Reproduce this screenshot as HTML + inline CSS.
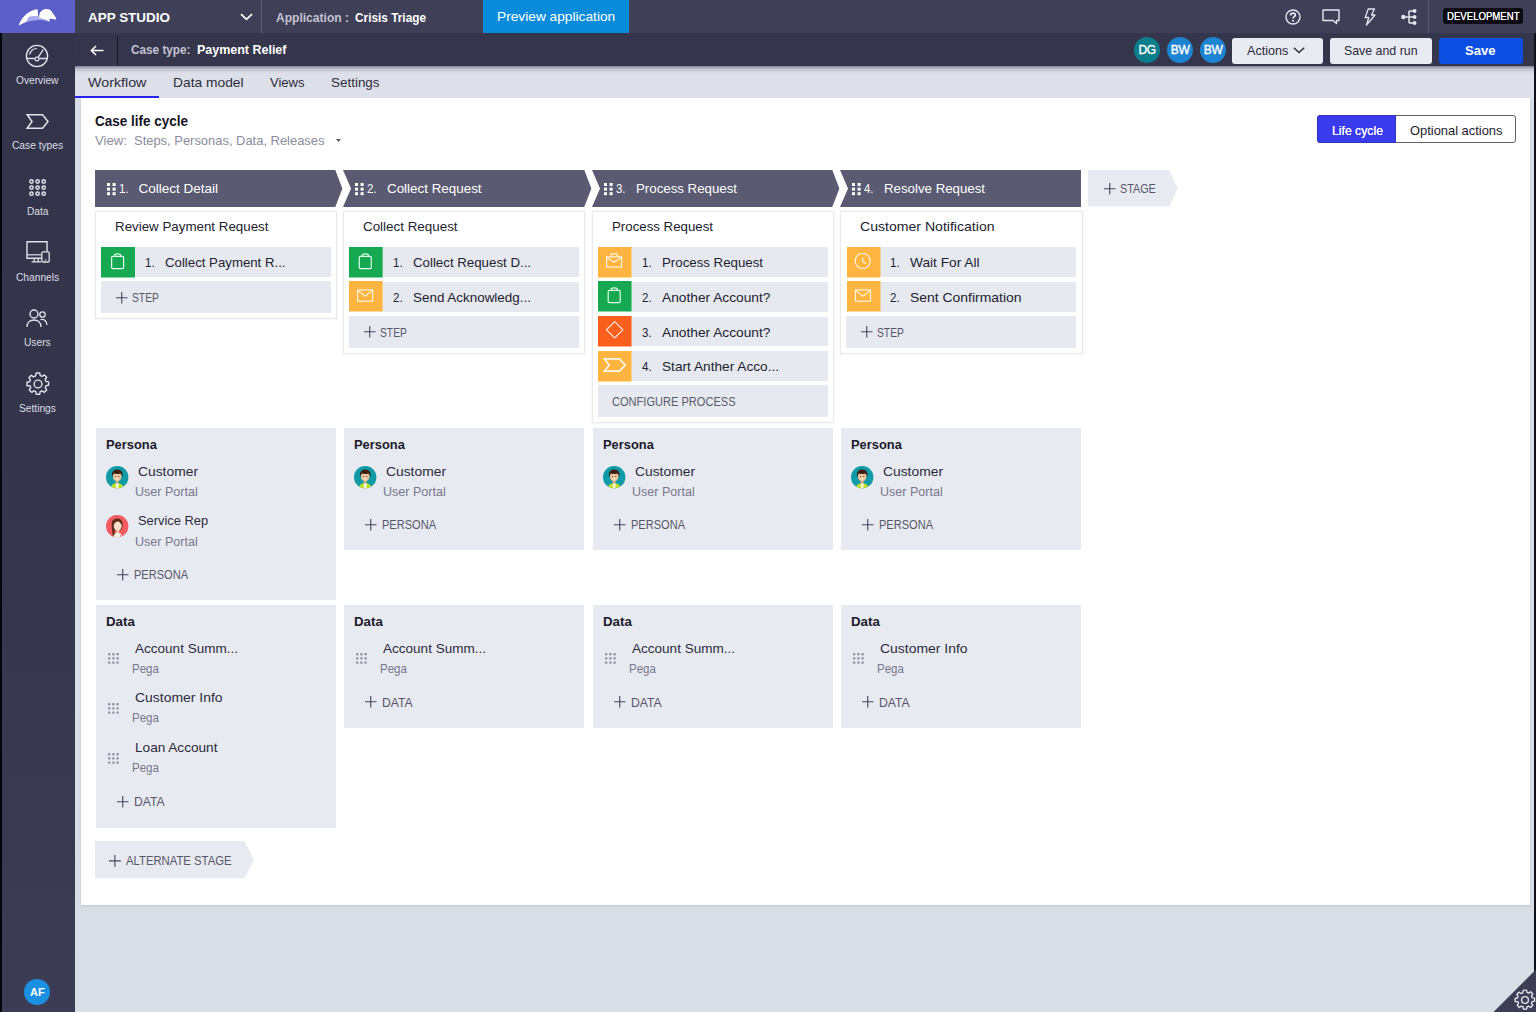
<!DOCTYPE html>
<html>
<head>
<meta charset="utf-8">
<title>App Studio</title>
<style>
*{box-sizing:border-box;margin:0;padding:0}
html,body{width:1536px;height:1012px;overflow:hidden}
body{font-family:"Liberation Sans",sans-serif;background:#d9dde6;position:relative;color:#1c1c2c;font-size:13px}
.abs{position:absolute}
svg{display:block;position:absolute;overflow:visible}
/* top bar */
#topbar{left:0;top:0;width:1536px;height:33px;background:#3f3f58}
#logo{left:0;top:0;width:75px;height:33px;background:#5d5fc9}
#bar2{left:75px;top:33px;width:1461px;height:33px;background:#35354b}
#side{left:0;top:33px;width:75px;height:979px;background:linear-gradient(#33344a 0%,#35364b 55%,#3c3c54 100%)}
#sideedge{left:0;top:33px;width:2px;height:979px;background:#05050a}
#rightedge{left:1533.6px;top:33px;width:2.4px;height:979px;background:#101018}
#tabs{left:75px;top:66px;width:1459px;height:32px;background:#dde0e9}
#tabshadow{left:75px;top:66px;width:1459px;height:7px;background:linear-gradient(rgba(40,40,60,.5),rgba(40,40,60,.18) 40%,rgba(40,40,60,0))}
#panel{left:81px;top:98px;width:1449px;height:807px;background:#fff;box-shadow:0 1px 2px rgba(60,60,70,.13)}
.t{position:absolute;white-space:nowrap;line-height:1}
.navlbl{position:absolute;left:2px;width:71px;text-align:center;font-size:11px;color:#e4e4ec;line-height:1;white-space:nowrap}
.btn{position:absolute;top:38px;height:26px;border-radius:3px;background:#e9ebf2;color:#2a2a3a;font-size:13px;line-height:26px;text-align:center;white-space:nowrap}
.av{position:absolute;top:37.3px;width:26.2px;height:26.2px;border-radius:50%;color:#fff;font-size:12px;line-height:26.2px;text-align:center;-webkit-text-stroke:.35px #fff;letter-spacing:-.3px}
/* stages */
.stage{position:absolute;top:170px;height:37px;background:#5a5a73}
.stxt{position:absolute;top:182px;font-size:14px;color:#fff;white-space:nowrap;line-height:1}
.cont{position:absolute;top:211px;width:242px;border:1px solid #e3e5ec;background:#fff}
.ptitle{position:absolute;font-size:13px;color:#22222f;white-space:nowrap;line-height:1}
.row{position:absolute;width:229px;background:#e6e9f0}
.ico{position:absolute;width:34px;height:31px}
.g{background:#17a951}.o{background:#fdb441}.r{background:#fb5f1e}
.rtxt{position:absolute;font-size:14px;color:#22222f;white-space:nowrap;line-height:1}
.add{position:absolute;font-size:12px;color:#50505f;white-space:nowrap;line-height:1}
.box{position:absolute;width:241px;background:#e8eaf2}
.h{position:absolute;font-size:13px;font-weight:bold;color:#1a1a2a;white-space:nowrap;line-height:1}
.n{position:absolute;font-size:13px;color:#2a2a3a;white-space:nowrap;line-height:1}
.s{position:absolute;font-size:12px;color:#74748a;white-space:nowrap;line-height:1}
</style>
</head>
<body>
<div class="abs" id="topbar"></div>
<div class="abs" id="logo"></div>
<div class="abs" id="bar2"></div>
<div class="abs" id="side"></div>
<div class="abs" id="sideedge"></div>
<div class="abs" id="tabs"></div>
<div class="abs" id="tabshadow"></div>
<div class="abs" id="panel"></div>
<div class="abs" id="rightedge"></div>
<svg style="left:0.00px;top:0.00px" width="75" height="33" viewBox="0 0 75 33">
<path d="M18.6 25.6 C20.5 20.5 23.5 16.5 26.5 14 C30 11.2 33.8 9.6 37.4 9.2 C37.8 11.5 38 14 38.1 16.6 C44 17 47 18.6 49.4 21.4 L49.200 21.900 C45.500 20.300 42 19.800 38.500 19.900 C31 20 25 22 18.600 25.600Z" fill="#a9abef"/>
<path d="M18.6 25.6 C20.5 20.5 23.5 16.5 26.5 14 C30 11.2 33.8 9.6 37.4 9.2 C37.8 11.5 38 14 38.1 16.400 C34.500 15.800 31.500 16 28.800 16.800 C27.800 18.500 27 19.800 26.300 21.800 C23.500 22.800 21 24 18.600 25.600Z" fill="#fff"/>
<path d="M39.1 15.600 C39.500 13 40.800 11 42.600 10 C44 9.200 45.800 8.900 47.200 9.100 C48.800 9.300 50.300 9.900 51.300 10.900 L56 17.700 C56.300 18.500 56.100 19.300 55.600 19.800 C53.800 19.200 51.500 18.700 49.400 18.600 C49.700 19.600 49.800 20.600 49.600 21.600 C48.200 20.400 46.800 19.800 45.600 19.400 C43.500 18.600 41 18 39.100 17.700Z" fill="#fff"/>
</svg>
<div class="t" style="left:88.00px;top:11.00px;font-size:13px;color:#fff;font-weight:bold;transform:scaleX(1.0347);transform-origin:0 0;">APP STUDIO</div>
<svg style="left:240.00px;top:12.50px" width="13" height="8" viewBox="0 0 13 8"><path d="M1 1.2L6.5 6.3L12 1.2" stroke="#fff" stroke-width="1.8" fill="none"/></svg>
<div class="abs" style="left:261.00px;top:0.00px;width:1.00px;height:33.00px;background:#5c5c75;"></div>
<div class="t" style="left:275.50px;top:11.00px;font-size:13px;color:#c4c4d0;font-weight:bold;transform:scaleX(0.9270);transform-origin:0 0;">Application :</div>
<div class="t" style="left:355.00px;top:11.00px;font-size:13px;color:#fff;font-weight:bold;transform:scaleX(0.9103);transform-origin:0 0;">Crisis Triage</div>
<div class="abs" style="left:483.00px;top:0.00px;width:145.50px;height:32.50px;background:#0b8cda;"></div>
<div class="t" style="left:496.50px;top:9.80px;font-size:13px;color:#fff;transform:scaleX(1.0554);transform-origin:0 0;">Preview application</div>
<svg style="left:1284.50px;top:8.50px" width="16" height="16" viewBox="0 0 16 16"><circle cx="8" cy="8" r="7" stroke="#e6e6ee" stroke-width="1.4" fill="none"/><path d="M5.7 6.4C5.7 4.9 6.7 4.1 8 4.1C9.4 4.1 10.3 4.9 10.3 6.1C10.3 7.6 8 7.7 8 9.4" stroke="#e6e6ee" stroke-width="1.8" fill="none"/><circle cx="8" cy="11.700" r="1.050" fill="#e6e6ee"/></svg>
<svg style="left:1322.00px;top:9.00px" width="18" height="16" viewBox="0 0 18 16"><path d="M1 1H17V11.5H14.5V14.5L11 11.5H1Z" stroke="#e6e6ee" stroke-width="1.4" fill="none" stroke-linejoin="round"/></svg>
<svg style="left:1363.00px;top:8.00px" width="14" height="18" viewBox="0 0 14 18"><path d="M5.2 1H11.5L8.5 7H12L3.5 17L5.8 9.5H2.2Z" stroke="#e6e6ee" stroke-width="1.3" fill="none" stroke-linejoin="round"/></svg>
<svg style="left:1401.00px;top:8.50px" width="16" height="16" viewBox="0 0 16 16"><path d="M2 8H8M8 2V14M8 2H13.5M8 8H13.5M8 14H13.5" stroke="#e6e6ee" stroke-width="1.5" fill="none"/><circle cx="2.300" cy="8" r="2.200" fill="#e6e6ee"/><circle cx="13.600" cy="2" r="1.900" fill="#e6e6ee"/><circle cx="13.600" cy="8" r="1.900" fill="#e6e6ee"/><circle cx="13.600" cy="14" r="1.900" fill="#e6e6ee"/></svg>
<div class="abs" style="left:1428.00px;top:0.00px;width:1.00px;height:33.00px;background:#5c5c75;"></div>
<div class="abs" style="left:1442.50px;top:8.00px;width:80.50px;height:15.70px;background:#0c0c12;border-radius:3px;"></div>
<div class="t" style="left:1446.50px;top:11.09px;font-size:11px;color:#fff;transform:scaleX(0.8722);transform-origin:0 0;text-shadow:0 0 .4px #fff;">DEVELOPMENT</div>

<svg style="left:25.30px;top:44.20px" width="24" height="24" viewBox="0 0 24 24"><circle cx="12" cy="12" r="10.6" stroke="#e2e2ea" stroke-width="1.4" fill="none"/><path d="M1.6 14.5H9.8M14.2 14.5H22.4" stroke="#e2e2ea" stroke-width="1.3"/><circle cx="12" cy="15" r="1.9" stroke="#e2e2ea" stroke-width="1.2" fill="none"/><path d="M13.1 13.4L18.3 5.6" stroke="#e2e2ea" stroke-width="1.4"/><path d="M4.6 10.5C5.6 6.8 8.6 4.5 12 4.5" stroke="#e2e2ea" stroke-width="1.2" fill="none"/></svg>
<div class="t" style="left:16.24px;top:75.53px;font-size:10px;color:#dedee6;transform:scaleX(1.0183);transform-origin:0 0;">Overview</div>
<svg style="left:25.70px;top:113.60px" width="23" height="15" viewBox="0 0 23 15"><path d="M1.2 0.8H16.5L22 7.5L16.5 14.2H1.2L6 7.5Z" stroke="#e2e2ea" stroke-width="1.5" fill="none" stroke-linejoin="miter"/></svg>
<div class="t" style="left:11.98px;top:141.03px;font-size:10px;color:#dedee6;transform:scaleX(1.0206);transform-origin:0 0;">Case types</div>
<svg style="left:29.00px;top:178.70px" width="17.2" height="17.2" viewBox="0 0 17.2 17.2"><circle cx="2.5" cy="2.5" r="1.65" stroke="#e2e2ea" stroke-width="1.5" fill="none"/><circle cx="8.6" cy="2.5" r="1.65" stroke="#e2e2ea" stroke-width="1.5" fill="none"/><circle cx="14.7" cy="2.5" r="1.65" stroke="#e2e2ea" stroke-width="1.5" fill="none"/><circle cx="2.5" cy="8.6" r="1.65" stroke="#e2e2ea" stroke-width="1.5" fill="none"/><circle cx="8.6" cy="8.6" r="1.65" stroke="#e2e2ea" stroke-width="1.5" fill="none"/><circle cx="14.7" cy="8.6" r="1.65" stroke="#e2e2ea" stroke-width="1.5" fill="none"/><circle cx="2.5" cy="14.7" r="1.65" stroke="#e2e2ea" stroke-width="1.5" fill="none"/><circle cx="8.6" cy="14.7" r="1.65" stroke="#e2e2ea" stroke-width="1.5" fill="none"/><circle cx="14.7" cy="14.7" r="1.65" stroke="#e2e2ea" stroke-width="1.5" fill="none"/></svg>
<div class="t" style="left:26.73px;top:207.03px;font-size:10px;color:#dedee6;transform:scaleX(1.0141);transform-origin:0 0;">Data</div>
<svg style="left:25.50px;top:241.30px" width="24" height="22" viewBox="0 0 24 22"><path d="M15.2 17.2H1V0.8H21V10.6" stroke="#e2e2ea" stroke-width="1.4" fill="none"/><path d="M1 13.8H15.2" stroke="#e2e2ea" stroke-width="1.2" fill="none"/><path d="M8.2 17.2V20.4M12.2 17.2V20.4M5.6 20.8H15" stroke="#e2e2ea" stroke-width="1.3" fill="none"/><rect x="15.8" y="10.8" width="7.4" height="10.2" rx="1.2" stroke="#e2e2ea" stroke-width="1.3" fill="none"/><path d="M18.6 19H20.400" stroke="#e2e2ea" stroke-width="1"/></svg>
<div class="t" style="left:15.95px;top:272.54px;font-size:10px;color:#dedee6;transform:scaleX(1.0202);transform-origin:0 0;">Channels</div>
<svg style="left:26.00px;top:308.50px" width="22" height="19" viewBox="0 0 22 19"><circle cx="8" cy="5" r="4" stroke="#e2e2ea" stroke-width="1.4" fill="none"/><path d="M1 18C1 13.5 4 11 8 11C12 11 15 13.5 15 18" stroke="#e2e2ea" stroke-width="1.4" fill="none"/><circle cx="16.5" cy="5.5" r="2.7" stroke="#e2e2ea" stroke-width="1.3" fill="none"/><path d="M14.5 10.6C18.5 9.8 21 12.5 21 16" stroke="#e2e2ea" stroke-width="1.3" fill="none"/></svg>
<div class="t" style="left:24.18px;top:338.04px;font-size:10px;color:#dedee6;transform:scaleX(1.0196);transform-origin:0 0;">Users</div>
<svg style="left:25.50px;top:372.00px" width="24" height="24" viewBox="0 0 24 24"><path d="M10.3 1h3.4l.5 2.6 1.9.8 2.2-1.5 2.4 2.4-1.5 2.2.8 1.9 2.6.5v3.4l-2.6.5-.8 1.9 1.5 2.2-2.4 2.4-2.2-1.5-1.9.8-.5 2.6h-3.4l-.5-2.6-1.9-.8-2.2 1.5-2.4-2.4 1.5-2.2-.8-1.9L1 13.700v-3.400l2.600-.5.8-1.900-1.500-2.200 2.400-2.400 2.200 1.500 1.900-.8z" stroke="#e2e2ea" stroke-width="1.4" fill="none" stroke-linejoin="round"/><circle cx="12" cy="12" r="3.9" stroke="#e2e2ea" stroke-width="1.4" fill="none"/></svg>
<div class="t" style="left:19.07px;top:403.54px;font-size:10px;color:#dedee6;transform:scaleX(1.0204);transform-origin:0 0;">Settings</div>
<div class="abs" style="left:24.3px;top:979px;width:26px;height:26px;border-radius:50%;background:#1b8fe0;color:#fff;font-size:11px;font-weight:bold;line-height:26px;text-align:center">AF</div>

<svg style="left:90.00px;top:44.50px" width="14" height="11" viewBox="0 0 14 11"><path d="M13.5 5.5H1.5M6 1L1.4 5.5L6 10" stroke="#fff" stroke-width="1.6" fill="none"/></svg>
<div class="abs" style="left:117.00px;top:36.00px;width:1.00px;height:29.00px;background:#1a1a26;"></div>
<div class="t" style="left:131.00px;top:43.40px;font-size:13px;color:#c4c4d0;font-weight:bold;transform:scaleX(0.9049);transform-origin:0 0;">Case type:</div>
<div class="t" style="left:196.50px;top:43.40px;font-size:13px;color:#fff;font-weight:bold;transform:scaleX(0.9598);transform-origin:0 0;">Payment Relief</div>
<div class="av" style="left:1134px;background:#0a7d8c">DG</div>
<div class="av" style="left:1167px;background:#1d84d2">BW</div>
<div class="av" style="left:1200px;background:#1d84d2">BW</div>
<div class="btn" style="left:1232px;width:91px"></div>
<div class="t" style="left:1246.60px;top:43.80px;font-size:13px;color:#2a2a3a;transform:scaleX(0.9713);transform-origin:0 0;">Actions</div>
<svg style="left:1293.00px;top:47.00px" width="12" height="7" viewBox="0 0 12 7"><path d="M0.8 0.8L6 5.6L11.2 0.8" stroke="#2a2a3a" stroke-width="1.4" fill="none"/></svg>
<div class="btn" style="left:1330px;width:102px"></div>
<div class="t" style="left:1344.00px;top:43.80px;font-size:13px;color:#2a2a3a;transform:scaleX(0.9512);transform-origin:0 0;">Save and run</div>
<div class="btn" style="left:1439px;width:84px;background:#0a4fe2"></div>
<div class="t" style="left:1465.40px;top:43.80px;font-size:13px;color:#fff;font-weight:bold;transform:scaleX(1.0074);transform-origin:0 0;">Save</div>

<div class="t" style="left:88.00px;top:75.57px;font-size:13.5px;color:#2c2c3c;transform:scaleX(1.0564);transform-origin:0 0;">Workflow</div>
<div class="t" style="left:173.00px;top:75.57px;font-size:13.5px;color:#2c2c3c;transform:scaleX(1.0217);transform-origin:0 0;">Data model</div>
<div class="t" style="left:270.00px;top:75.57px;font-size:13.5px;color:#2c2c3c;transform:scaleX(0.9650);transform-origin:0 0;">Views</div>
<div class="t" style="left:331.00px;top:75.57px;font-size:13.5px;color:#2c2c3c;transform:scaleX(0.9949);transform-origin:0 0;">Settings</div>
<div class="abs" style="left:75.00px;top:96.00px;width:84.00px;height:1.70px;background:#2424ee;"></div>

<div class="t" style="left:95.00px;top:114.25px;font-size:14px;color:#14141f;font-weight:bold;transform:scaleX(0.9637);transform-origin:0 0;">Case life cycle</div>
<div class="t" style="left:95.00px;top:133.50px;font-size:13px;color:#8c8c9c;transform:scaleX(1.0159);transform-origin:0 0;">View:</div>
<div class="t" style="left:133.50px;top:133.50px;font-size:13px;color:#8c8c9c;transform:scaleX(0.9948);transform-origin:0 0;">Steps, Personas, Data, Releases</div>
<svg style="left:336.00px;top:138.70px" width="5" height="3" viewBox="0 0 5 3"><path d="M0 0H5L2.500 3Z" fill="#55556a"/></svg>
<div class="abs" style="left:1317px;top:115.3px;width:199px;height:27.7px;border:1px solid #5e5e72;border-radius:3px;background:#fff"></div>
<div class="abs" style="left:1317px;top:115.3px;width:79px;height:27.7px;border-radius:3px 0 0 3px;background:#3b3bee;border:1px solid #3333b8"></div>
<div class="t" style="left:1331.50px;top:124.00px;font-size:13px;color:#fff;transform:scaleX(0.9401);transform-origin:0 0;text-shadow:0 0 .5px #fff;">Life cycle</div>
<div class="t" style="left:1409.50px;top:124.00px;font-size:13px;color:#1c1c2c;transform:scaleX(0.9920);transform-origin:0 0;">Optional actions</div>

<svg style="left:95.00px;top:169.80px" width="248" height="37.1" viewBox="0 0 248 37.1"><path d="M0 0L240.3 0L247.4 18.55L240.3 37.1L0 37.1Z" fill="#5a5a73"/></svg>
<svg style="left:106.60px;top:183.30px" width="9" height="13" viewBox="0 0 9 13"><rect x="0" y="0" width="3" height="3" fill="#fff"/><rect x="5.6" y="0" width="3" height="3" fill="#fff"/><rect x="0" y="4.6" width="3" height="3" fill="#fff"/><rect x="5.6" y="4.6" width="3" height="3" fill="#fff"/><rect x="0" y="9.2" width="3" height="3" fill="#fff"/><rect x="5.6" y="9.2" width="3" height="3" fill="#fff"/></svg>
<div class="t" style="left:118.90px;top:182.27px;font-size:13.5px;color:#fff;transform:scaleX(0.8444);transform-origin:0 0;">1.</div>
<div class="t" style="left:138.50px;top:182.27px;font-size:13.5px;color:#fff;transform:scaleX(1.0000);transform-origin:0 0;">Collect Detail</div>
<svg style="left:343.00px;top:169.80px" width="249" height="37.1" viewBox="0 0 249 37.1"><path d="M0 0L241.3 0L248.4 18.55L241.3 37.1L0 37.1L8 18.55Z" fill="#5a5a73"/></svg>
<svg style="left:354.60px;top:183.30px" width="9" height="13" viewBox="0 0 9 13"><rect x="0" y="0" width="3" height="3" fill="#fff"/><rect x="5.6" y="0" width="3" height="3" fill="#fff"/><rect x="0" y="4.6" width="3" height="3" fill="#fff"/><rect x="5.6" y="4.6" width="3" height="3" fill="#fff"/><rect x="0" y="9.2" width="3" height="3" fill="#fff"/><rect x="5.6" y="9.2" width="3" height="3" fill="#fff"/></svg>
<div class="t" style="left:366.90px;top:182.27px;font-size:13.5px;color:#fff;transform:scaleX(0.8444);transform-origin:0 0;">2.</div>
<div class="t" style="left:386.50px;top:182.27px;font-size:13.5px;color:#fff;transform:scaleX(0.9921);transform-origin:0 0;">Collect Request</div>
<svg style="left:592.00px;top:169.80px" width="248" height="37.1" viewBox="0 0 248 37.1"><path d="M0 0L240.3 0L247.4 18.55L240.3 37.1L0 37.1L8 18.55Z" fill="#5a5a73"/></svg>
<svg style="left:603.60px;top:183.30px" width="9" height="13" viewBox="0 0 9 13"><rect x="0" y="0" width="3" height="3" fill="#fff"/><rect x="5.6" y="0" width="3" height="3" fill="#fff"/><rect x="0" y="4.6" width="3" height="3" fill="#fff"/><rect x="5.6" y="4.6" width="3" height="3" fill="#fff"/><rect x="0" y="9.2" width="3" height="3" fill="#fff"/><rect x="5.6" y="9.2" width="3" height="3" fill="#fff"/></svg>
<div class="t" style="left:615.90px;top:182.27px;font-size:13.5px;color:#fff;transform:scaleX(0.8444);transform-origin:0 0;">3.</div>
<div class="t" style="left:635.50px;top:182.27px;font-size:13.5px;color:#fff;transform:scaleX(0.9830);transform-origin:0 0;">Process Request</div>
<svg style="left:840.00px;top:169.80px" width="241" height="37.1" viewBox="0 0 241 37.1"><path d="M0 0L241 0L241 37.1L0 37.1L8 18.55Z" fill="#5a5a73"/></svg>
<svg style="left:851.60px;top:183.30px" width="9" height="13" viewBox="0 0 9 13"><rect x="0" y="0" width="3" height="3" fill="#fff"/><rect x="5.6" y="0" width="3" height="3" fill="#fff"/><rect x="0" y="4.6" width="3" height="3" fill="#fff"/><rect x="5.6" y="4.6" width="3" height="3" fill="#fff"/><rect x="0" y="9.2" width="3" height="3" fill="#fff"/><rect x="5.6" y="9.2" width="3" height="3" fill="#fff"/></svg>
<div class="t" style="left:863.90px;top:182.27px;font-size:13.5px;color:#fff;transform:scaleX(0.8444);transform-origin:0 0;">4.</div>
<div class="t" style="left:883.50px;top:182.27px;font-size:13.5px;color:#fff;transform:scaleX(0.9830);transform-origin:0 0;">Resolve Request</div>
<svg style="left:1088.00px;top:170.00px" width="90" height="36.6" viewBox="0 0 90 36.6"><path d="M0 0H81.3L89.6 18.3L81.3 36.6H0Z" fill="#e8eaf1"/></svg>
<svg style="left:1103.75px;top:182.85px" width="11.5" height="11.5" viewBox="0 0 11.5 11.5"><path d="M5.75 0V11.5 M0 5.75H11.5" stroke="#44445a" stroke-width="1.1" fill="none"/></svg>
<div class="t" style="left:1120.00px;top:182.84px;font-size:12px;color:#56566a;transform:scaleX(0.9006);transform-origin:0 0;">STAGE</div>
<div class="abs" style="left:95.00px;top:211px;width:242px;height:108.20px;border:1px solid #e9e9ed;background:#fff;box-shadow:0 0 2px rgba(120,120,130,.12)"></div>
<div class="t" style="left:115.00px;top:219.77px;font-size:13.5px;color:#22222f;transform:scaleX(0.9879);transform-origin:0 0;">Review Payment Request</div>
<div class="abs" style="left:134.80px;top:247.10px;width:195.80px;height:29.90px;background:#e6e9f0;"></div>
<svg style="left:101.00px;top:246.60px" width="34" height="30.5" viewBox="0 0 34 30.5"><rect width="34" height="30.5" fill="#17a951"/><g transform="translate(0.3 0)"><rect x="10.3" y="9.4" width="12" height="12.2" rx="1" stroke="#dcffe6" stroke-width="1.2" fill="none"/><path d="M13.2 9.4V8.600C13.200 7.500 14.500 6.900 16.300 6.900C18.100 6.900 19.400 7.500 19.400 8.600V9.400" stroke="#dcffe6" stroke-width="1.2" fill="none"/></g></svg>
<div class="t" style="left:145.00px;top:256.07px;font-size:13.5px;color:#22222f;transform:scaleX(0.8533);transform-origin:0 0;">1.</div>
<div class="t" style="left:165.10px;top:256.07px;font-size:13.5px;color:#22222f;transform:scaleX(0.9797);transform-origin:0 0;">Collect Payment R...</div>
<div class="abs" style="left:101.20px;top:281.30px;width:229.40px;height:31.70px;background:#e6e9f0;"></div>
<svg style="left:115.85px;top:291.55px" width="11.5" height="11.5" viewBox="0 0 11.5 11.5"><path d="M5.75 0V11.5 M0 5.75H11.5" stroke="#44445a" stroke-width="1.1" fill="none"/></svg>
<div class="t" style="left:132.30px;top:291.94px;font-size:12px;color:#56566a;transform:scaleX(0.8574);transform-origin:0 0;">STEP</div>
<div class="abs" style="left:343.00px;top:211px;width:242px;height:142.90px;border:1px solid #e9e9ed;background:#fff;box-shadow:0 0 2px rgba(120,120,130,.12)"></div>
<div class="t" style="left:363.00px;top:219.77px;font-size:13.5px;color:#22222f;transform:scaleX(0.9921);transform-origin:0 0;">Collect Request</div>
<div class="abs" style="left:382.80px;top:247.10px;width:195.80px;height:29.90px;background:#e6e9f0;"></div>
<svg style="left:349.30px;top:246.60px" width="33.7" height="30.5" viewBox="0 0 33.7 30.5"><rect width="33.7" height="30.5" fill="#17a951"/><g transform="translate(0 0)"><rect x="10.3" y="9.4" width="12" height="12.2" rx="1" stroke="#dcffe6" stroke-width="1.2" fill="none"/><path d="M13.2 9.4V8.600C13.200 7.500 14.500 6.900 16.300 6.900C18.100 6.900 19.400 7.500 19.400 8.600V9.400" stroke="#dcffe6" stroke-width="1.2" fill="none"/></g></svg>
<div class="t" style="left:393.00px;top:256.07px;font-size:13.5px;color:#22222f;transform:scaleX(0.8533);transform-origin:0 0;">1.</div>
<div class="t" style="left:413.10px;top:256.07px;font-size:13.5px;color:#22222f;transform:scaleX(0.9833);transform-origin:0 0;">Collect Request D...</div>
<div class="abs" style="left:382.80px;top:281.80px;width:195.80px;height:29.90px;background:#e6e9f0;"></div>
<svg style="left:349.30px;top:281.30px" width="33.7" height="30.5" viewBox="0 0 33.7 30.5"><rect width="33.7" height="30.5" fill="#fdb441"/><g transform="translate(0 0)"><rect x="8.6" y="8.9" width="15.1" height="11.3" stroke="#fff4dc" stroke-width="1.2" fill="none"/><path d="M8.900 9.400L16.150 15.300L23.400 9.400" stroke="#fff4dc" stroke-width="1.2" fill="none"/></g></svg>
<div class="t" style="left:393.00px;top:290.77px;font-size:13.5px;color:#22222f;transform:scaleX(0.8533);transform-origin:0 0;">2.</div>
<div class="t" style="left:413.10px;top:290.77px;font-size:13.5px;color:#22222f;transform:scaleX(0.9947);transform-origin:0 0;">Send Acknowledg...</div>
<div class="abs" style="left:349.20px;top:316.00px;width:229.40px;height:31.70px;background:#e6e9f0;"></div>
<svg style="left:363.85px;top:326.25px" width="11.5" height="11.5" viewBox="0 0 11.5 11.5"><path d="M5.75 0V11.5 M0 5.75H11.5" stroke="#44445a" stroke-width="1.1" fill="none"/></svg>
<div class="t" style="left:380.30px;top:326.64px;font-size:12px;color:#56566a;transform:scaleX(0.8574);transform-origin:0 0;">STEP</div>
<div class="abs" style="left:592.00px;top:211px;width:242px;height:212.30px;border:1px solid #e9e9ed;background:#fff;box-shadow:0 0 2px rgba(120,120,130,.12)"></div>
<div class="t" style="left:612.00px;top:219.77px;font-size:13.5px;color:#22222f;transform:scaleX(0.9830);transform-origin:0 0;">Process Request</div>
<div class="abs" style="left:631.80px;top:247.10px;width:195.80px;height:29.90px;background:#e6e9f0;"></div>
<svg style="left:598.40px;top:246.60px" width="33.6" height="30.5" viewBox="0 0 33.6 30.5"><rect width="33.6" height="30.5" fill="#fdb441"/><g transform="translate(-0.1 0)"><rect x="8.7" y="9.8" width="14.9" height="10.2" stroke="#fff4dc" stroke-width="1.2" fill="none"/><path d="M13.1 9.800V6.900H19.300V9.800" stroke="#fff4dc" stroke-width="1.2" fill="none"/><path d="M8.900 10.600L16.150 15.300L23.400 10.600" stroke="#fff4dc" stroke-width="1.2" fill="none"/></g></svg>
<div class="t" style="left:642.00px;top:256.07px;font-size:13.5px;color:#22222f;transform:scaleX(0.8533);transform-origin:0 0;">1.</div>
<div class="t" style="left:662.10px;top:256.07px;font-size:13.5px;color:#22222f;transform:scaleX(0.9830);transform-origin:0 0;">Process Request</div>
<div class="abs" style="left:631.80px;top:281.80px;width:195.80px;height:29.90px;background:#e6e9f0;"></div>
<svg style="left:598.40px;top:281.30px" width="33.6" height="30.5" viewBox="0 0 33.6 30.5"><rect width="33.6" height="30.5" fill="#17a951"/><g transform="translate(-0.1 0)"><rect x="10.3" y="9.4" width="12" height="12.2" rx="1" stroke="#dcffe6" stroke-width="1.2" fill="none"/><path d="M13.2 9.4V8.600C13.200 7.500 14.500 6.900 16.300 6.900C18.100 6.900 19.400 7.500 19.400 8.600V9.400" stroke="#dcffe6" stroke-width="1.2" fill="none"/></g></svg>
<div class="t" style="left:642.00px;top:290.77px;font-size:13.5px;color:#22222f;transform:scaleX(0.8533);transform-origin:0 0;">2.</div>
<div class="t" style="left:662.10px;top:290.77px;font-size:13.5px;color:#22222f;transform:scaleX(1.0176);transform-origin:0 0;">Another Account?</div>
<div class="abs" style="left:631.80px;top:316.50px;width:195.80px;height:29.90px;background:#e6e9f0;"></div>
<svg style="left:598.40px;top:316.00px" width="33.6" height="30.5" viewBox="0 0 33.6 30.5"><rect width="33.6" height="30.5" fill="#fb5f1e"/><g transform="translate(-0.1 0)"><path d="M16.800 5.600L25 13.800L16.800 22L8.600 13.800Z" stroke="#ffe6d6" stroke-width="1.2" fill="none"/></g></svg>
<div class="t" style="left:642.00px;top:326.37px;font-size:13.5px;color:#22222f;transform:scaleX(0.8533);transform-origin:0 0;">3.</div>
<div class="t" style="left:662.10px;top:326.37px;font-size:13.5px;color:#22222f;transform:scaleX(1.0176);transform-origin:0 0;">Another Account?</div>
<div class="abs" style="left:631.80px;top:351.20px;width:195.80px;height:29.90px;background:#e6e9f0;"></div>
<svg style="left:598.40px;top:350.70px" width="33.6" height="30.5" viewBox="0 0 33.6 30.5"><rect width="33.6" height="30.5" fill="#fdb441"/><g transform="translate(-0.1 0)"><path d="M6.500 7.900H21.500L27.300 14L21.500 20.100H6.500L11.300 14Z" stroke="#fff8ea" stroke-width="1.7" fill="none"/></g></svg>
<div class="t" style="left:642.00px;top:360.17px;font-size:13.5px;color:#22222f;transform:scaleX(0.8533);transform-origin:0 0;">4.</div>
<div class="t" style="left:662.10px;top:360.17px;font-size:13.5px;color:#22222f;transform:scaleX(1.0130);transform-origin:0 0;">Start Anther Acco...</div>
<div class="abs" style="left:598.20px;top:385.40px;width:229.40px;height:31.70px;background:#e6e9f0;"></div>
<div class="t" style="left:611.50px;top:396.04px;font-size:12px;color:#5a5a6a;transform:scaleX(0.9216);transform-origin:0 0;">CONFIGURE PROCESS</div>
<div class="abs" style="left:840.00px;top:211px;width:242.7px;height:142.90px;border:1px solid #e9e9ed;background:#fff;box-shadow:0 0 2px rgba(120,120,130,.12)"></div>
<div class="t" style="left:860.00px;top:219.77px;font-size:13.5px;color:#22222f;transform:scaleX(1.0426);transform-origin:0 0;">Customer Notification</div>
<div class="abs" style="left:879.80px;top:247.10px;width:195.80px;height:29.90px;background:#e6e9f0;"></div>
<svg style="left:846.50px;top:246.60px" width="33.5" height="30.5" viewBox="0 0 33.5 30.5"><rect width="33.5" height="30.5" fill="#fdb441"/><g transform="translate(-0.2 0)"><circle cx="15.900" cy="14" r="7.500" stroke="#fff4dc" stroke-width="1.2" fill="none"/><path d="M15.900 10.400V14.400L19 16.800" stroke="#fff4dc" stroke-width="1.2" fill="none"/></g></svg>
<div class="t" style="left:890.00px;top:256.07px;font-size:13.5px;color:#22222f;transform:scaleX(0.8533);transform-origin:0 0;">1.</div>
<div class="t" style="left:910.10px;top:256.07px;font-size:13.5px;color:#22222f;transform:scaleX(1.0146);transform-origin:0 0;">Wait For All</div>
<div class="abs" style="left:879.80px;top:281.80px;width:195.80px;height:29.90px;background:#e6e9f0;"></div>
<svg style="left:846.50px;top:281.30px" width="33.5" height="30.5" viewBox="0 0 33.5 30.5"><rect width="33.5" height="30.5" fill="#fdb441"/><g transform="translate(-0.2 0)"><rect x="8.6" y="8.9" width="15.1" height="11.3" stroke="#fff4dc" stroke-width="1.2" fill="none"/><path d="M8.900 9.400L16.150 15.300L23.400 9.400" stroke="#fff4dc" stroke-width="1.2" fill="none"/></g></svg>
<div class="t" style="left:890.00px;top:290.77px;font-size:13.5px;color:#22222f;transform:scaleX(0.8533);transform-origin:0 0;">2.</div>
<div class="t" style="left:910.10px;top:290.77px;font-size:13.5px;color:#22222f;transform:scaleX(1.0324);transform-origin:0 0;">Sent Confirmation</div>
<div class="abs" style="left:846.20px;top:316.00px;width:229.40px;height:31.70px;background:#e6e9f0;"></div>
<svg style="left:860.85px;top:326.25px" width="11.5" height="11.5" viewBox="0 0 11.5 11.5"><path d="M5.75 0V11.5 M0 5.75H11.5" stroke="#44445a" stroke-width="1.1" fill="none"/></svg>
<div class="t" style="left:877.30px;top:326.64px;font-size:12px;color:#56566a;transform:scaleX(0.8574);transform-origin:0 0;">STEP</div>

<div class="abs" style="left:95.75px;top:428.40px;width:240.70px;height:171.30px;background:#e8eaf2;"></div>
<div class="t" style="left:106.00px;top:437.50px;font-size:13px;color:#1a1a2a;font-weight:bold;transform:scaleX(0.9903);transform-origin:0 0;">Persona</div>
<svg style="left:106.00px;top:465.50px" width="22.4" height="22.4" viewBox="0 0 22.4 22.4"><defs><clipPath id="cA1172"><circle cx="11.2" cy="11.2" r="11.2"/></clipPath></defs>
<circle cx="11.2" cy="11.2" r="11.2" fill="#119ba8"/>
<g clip-path="url(#cA1172)">
<path d="M5 23C5 18.800 7.600 17.300 11.200 17.300C14.800 17.300 17.400 18.800 17.400 23Z" fill="#c4e02c"/>
<path d="M9.700 17.300L10.300 22.500H12.100L12.700 17.300Z" fill="#f8f8ee"/>
<rect x="9.900" y="14" width="2.600" height="3.600" fill="#dfa980"/>
<ellipse cx="11.200" cy="10.600" rx="4.300" ry="4.700" fill="#efc39c"/>
<path d="M6.300 11.400C4.800 6 7.600 3.400 11.300 3.400C15 3.400 17.600 6 16.200 11.400C16 9.400 15.400 8.200 14.400 7.400C12.400 8.300 9.400 8.200 7.700 7.600C6.900 8.500 6.500 9.800 6.300 11.400Z" fill="#3f1f12"/>
<circle cx="9.600" cy="10.500" r=".55" fill="#3a2418"/><circle cx="12.800" cy="10.500" r=".55" fill="#3a2418"/>
<path d="M9.400 12.500C10.400 13.700 12 13.700 13 12.500Z" fill="#fff"/>
</g></svg>
<div class="t" style="left:137.50px;top:464.57px;font-size:13.5px;color:#2a2a3a;transform:scaleX(1.0256);transform-origin:0 0;">Customer</div>
<div class="t" style="left:135.30px;top:485.84px;font-size:12px;color:#76768c;transform:scaleX(1.0450);transform-origin:0 0;">User Portal</div>
<svg style="left:106.00px;top:515.30px" width="22.4" height="22.4" viewBox="0 0 22.4 22.4"><defs><clipPath id="cB1698"><circle cx="11.2" cy="11.2" r="11.2"/></clipPath></defs>
<circle cx="11.2" cy="11.2" r="11.2" fill="#f45c62"/>
<g clip-path="url(#cB1698)">
<path d="M5.800 11C4.800 5.500 7.800 3.400 11.200 3.400C14.800 3.400 17.300 5.800 16.500 11.500C16.400 13.500 15.500 14.800 14.500 15.300L8 15.300C6.800 14.300 6 13 5.800 11Z" fill="#5e2f1c"/>
<path d="M5.900 11C5.600 14 6.300 17 7 21.500L9 21.500C8.600 18 8.600 15 8.800 12Z" fill="#5e2f1c"/>
<path d="M7.500 23C7.500 19.300 9.200 17.800 11.800 17.800C14.400 17.800 16.200 19.300 16.200 23Z" fill="#f6efe4"/>
<path d="M14 19.500L15.200 21.200L14 22.200Z" fill="#e8484e"/>
<rect x="10.400" y="14.200" width="2.600" height="3.900" fill="#efc5a5"/>
<ellipse cx="11.700" cy="10.900" rx="4" ry="4.600" fill="#f9e0cc"/>
<path d="M7.500 10C8.300 7.500 10.300 6.800 12 6.300C13.500 7 15 8 15.800 10.200C16.200 6.500 14.500 4.400 11.700 4.400C8.800 4.400 7.200 6.600 7.500 10Z" fill="#5e2f1c"/>
</g></svg>
<div class="t" style="left:137.50px;top:514.37px;font-size:13.5px;color:#2a2a3a;transform:scaleX(0.9524);transform-origin:0 0;">Service Rep</div>
<div class="t" style="left:135.30px;top:535.64px;font-size:12px;color:#76768c;transform:scaleX(1.0450);transform-origin:0 0;">User Portal</div>
<svg style="left:117.05px;top:568.85px" width="11.5" height="11.5" viewBox="0 0 11.5 11.5"><path d="M5.75 0V11.5 M0 5.75H11.5" stroke="#44445a" stroke-width="1.1" fill="none"/></svg>
<div class="t" style="left:133.60px;top:569.04px;font-size:12px;color:#56566a;transform:scaleX(0.9211);transform-origin:0 0;">PERSONA</div>
<div class="abs" style="left:343.75px;top:428.40px;width:240.70px;height:121.40px;background:#e8eaf2;"></div>
<div class="t" style="left:354.00px;top:437.50px;font-size:13px;color:#1a1a2a;font-weight:bold;transform:scaleX(0.9903);transform-origin:0 0;">Persona</div>
<svg style="left:354.00px;top:465.50px" width="22.4" height="22.4" viewBox="0 0 22.4 22.4"><defs><clipPath id="cA3652"><circle cx="11.2" cy="11.2" r="11.2"/></clipPath></defs>
<circle cx="11.2" cy="11.2" r="11.2" fill="#119ba8"/>
<g clip-path="url(#cA3652)">
<path d="M5 23C5 18.800 7.600 17.300 11.200 17.300C14.800 17.300 17.400 18.800 17.400 23Z" fill="#c4e02c"/>
<path d="M9.700 17.300L10.300 22.500H12.100L12.700 17.300Z" fill="#f8f8ee"/>
<rect x="9.900" y="14" width="2.600" height="3.600" fill="#dfa980"/>
<ellipse cx="11.200" cy="10.600" rx="4.300" ry="4.700" fill="#efc39c"/>
<path d="M6.300 11.400C4.800 6 7.600 3.400 11.300 3.400C15 3.400 17.600 6 16.200 11.400C16 9.400 15.400 8.200 14.400 7.400C12.400 8.300 9.400 8.200 7.700 7.600C6.900 8.500 6.500 9.800 6.300 11.400Z" fill="#3f1f12"/>
<circle cx="9.600" cy="10.500" r=".55" fill="#3a2418"/><circle cx="12.800" cy="10.500" r=".55" fill="#3a2418"/>
<path d="M9.400 12.500C10.400 13.700 12 13.700 13 12.500Z" fill="#fff"/>
</g></svg>
<div class="t" style="left:385.50px;top:464.57px;font-size:13.5px;color:#2a2a3a;transform:scaleX(1.0256);transform-origin:0 0;">Customer</div>
<div class="t" style="left:383.30px;top:485.84px;font-size:12px;color:#76768c;transform:scaleX(1.0450);transform-origin:0 0;">User Portal</div>
<svg style="left:365.05px;top:519.05px" width="11.5" height="11.5" viewBox="0 0 11.5 11.5"><path d="M5.75 0V11.5 M0 5.75H11.5" stroke="#44445a" stroke-width="1.1" fill="none"/></svg>
<div class="t" style="left:381.60px;top:519.24px;font-size:12px;color:#56566a;transform:scaleX(0.9211);transform-origin:0 0;">PERSONA</div>
<div class="abs" style="left:592.75px;top:428.40px;width:240.70px;height:121.40px;background:#e8eaf2;"></div>
<div class="t" style="left:603.00px;top:437.50px;font-size:13px;color:#1a1a2a;font-weight:bold;transform:scaleX(0.9903);transform-origin:0 0;">Persona</div>
<svg style="left:603.00px;top:465.50px" width="22.4" height="22.4" viewBox="0 0 22.4 22.4"><defs><clipPath id="cA6142"><circle cx="11.2" cy="11.2" r="11.2"/></clipPath></defs>
<circle cx="11.2" cy="11.2" r="11.2" fill="#119ba8"/>
<g clip-path="url(#cA6142)">
<path d="M5 23C5 18.800 7.600 17.300 11.200 17.300C14.800 17.300 17.400 18.800 17.400 23Z" fill="#c4e02c"/>
<path d="M9.700 17.300L10.300 22.500H12.100L12.700 17.300Z" fill="#f8f8ee"/>
<rect x="9.900" y="14" width="2.600" height="3.600" fill="#dfa980"/>
<ellipse cx="11.200" cy="10.600" rx="4.300" ry="4.700" fill="#efc39c"/>
<path d="M6.300 11.400C4.800 6 7.600 3.400 11.300 3.400C15 3.400 17.600 6 16.200 11.400C16 9.400 15.400 8.200 14.400 7.400C12.400 8.300 9.400 8.200 7.700 7.600C6.900 8.500 6.500 9.800 6.300 11.400Z" fill="#3f1f12"/>
<circle cx="9.600" cy="10.500" r=".55" fill="#3a2418"/><circle cx="12.800" cy="10.500" r=".55" fill="#3a2418"/>
<path d="M9.400 12.500C10.400 13.700 12 13.700 13 12.500Z" fill="#fff"/>
</g></svg>
<div class="t" style="left:634.50px;top:464.57px;font-size:13.5px;color:#2a2a3a;transform:scaleX(1.0256);transform-origin:0 0;">Customer</div>
<div class="t" style="left:632.30px;top:485.84px;font-size:12px;color:#76768c;transform:scaleX(1.0450);transform-origin:0 0;">User Portal</div>
<svg style="left:614.05px;top:519.05px" width="11.5" height="11.5" viewBox="0 0 11.5 11.5"><path d="M5.75 0V11.5 M0 5.75H11.5" stroke="#44445a" stroke-width="1.1" fill="none"/></svg>
<div class="t" style="left:630.60px;top:519.24px;font-size:12px;color:#56566a;transform:scaleX(0.9211);transform-origin:0 0;">PERSONA</div>
<div class="abs" style="left:840.75px;top:428.40px;width:240.70px;height:121.40px;background:#e8eaf2;"></div>
<div class="t" style="left:851.00px;top:437.50px;font-size:13px;color:#1a1a2a;font-weight:bold;transform:scaleX(0.9903);transform-origin:0 0;">Persona</div>
<svg style="left:851.00px;top:465.50px" width="22.4" height="22.4" viewBox="0 0 22.4 22.4"><defs><clipPath id="cA8622"><circle cx="11.2" cy="11.2" r="11.2"/></clipPath></defs>
<circle cx="11.2" cy="11.2" r="11.2" fill="#119ba8"/>
<g clip-path="url(#cA8622)">
<path d="M5 23C5 18.800 7.600 17.300 11.200 17.300C14.800 17.300 17.400 18.800 17.400 23Z" fill="#c4e02c"/>
<path d="M9.700 17.300L10.300 22.500H12.100L12.700 17.300Z" fill="#f8f8ee"/>
<rect x="9.900" y="14" width="2.600" height="3.600" fill="#dfa980"/>
<ellipse cx="11.200" cy="10.600" rx="4.300" ry="4.700" fill="#efc39c"/>
<path d="M6.300 11.400C4.800 6 7.600 3.400 11.300 3.400C15 3.400 17.600 6 16.200 11.400C16 9.400 15.400 8.200 14.400 7.400C12.400 8.300 9.400 8.200 7.700 7.600C6.900 8.500 6.500 9.800 6.300 11.400Z" fill="#3f1f12"/>
<circle cx="9.600" cy="10.500" r=".55" fill="#3a2418"/><circle cx="12.800" cy="10.500" r=".55" fill="#3a2418"/>
<path d="M9.400 12.500C10.400 13.700 12 13.700 13 12.500Z" fill="#fff"/>
</g></svg>
<div class="t" style="left:882.50px;top:464.57px;font-size:13.5px;color:#2a2a3a;transform:scaleX(1.0256);transform-origin:0 0;">Customer</div>
<div class="t" style="left:880.30px;top:485.84px;font-size:12px;color:#76768c;transform:scaleX(1.0450);transform-origin:0 0;">User Portal</div>
<svg style="left:862.05px;top:519.05px" width="11.5" height="11.5" viewBox="0 0 11.5 11.5"><path d="M5.75 0V11.5 M0 5.75H11.5" stroke="#44445a" stroke-width="1.1" fill="none"/></svg>
<div class="t" style="left:878.60px;top:519.24px;font-size:12px;color:#56566a;transform:scaleX(0.9211);transform-origin:0 0;">PERSONA</div>

<div class="abs" style="left:95.75px;top:605.30px;width:240.70px;height:222.30px;background:#e8eaf2;"></div>
<div class="t" style="left:106.00px;top:614.50px;font-size:13px;color:#1a1a2a;font-weight:bold;transform:scaleX(1.0220);transform-origin:0 0;">Data</div>
<div class="t" style="left:134.50px;top:641.57px;font-size:13.5px;color:#2a2a3a;transform:scaleX(1.0024);transform-origin:0 0;">Account Summ...</div>
<div class="t" style="left:132.00px;top:662.54px;font-size:12px;color:#76768c;transform:scaleX(0.9600);transform-origin:0 0;">Pega</div>
<svg style="left:108.20px;top:653.30px" width="11" height="11" viewBox="0 0 11 11"><rect x="0" y="0" width="2.400" height="2.400" rx=".8" fill="#8f8fa2"/><rect x="4.2" y="0" width="2.400" height="2.400" rx=".8" fill="#8f8fa2"/><rect x="8.4" y="0" width="2.400" height="2.400" rx=".8" fill="#8f8fa2"/><rect x="0" y="4.2" width="2.400" height="2.400" rx=".8" fill="#8f8fa2"/><rect x="4.2" y="4.2" width="2.400" height="2.400" rx=".8" fill="#8f8fa2"/><rect x="8.4" y="4.2" width="2.400" height="2.400" rx=".8" fill="#8f8fa2"/><rect x="0" y="8.4" width="2.400" height="2.400" rx=".8" fill="#8f8fa2"/><rect x="4.2" y="8.4" width="2.400" height="2.400" rx=".8" fill="#8f8fa2"/><rect x="8.4" y="8.4" width="2.400" height="2.400" rx=".8" fill="#8f8fa2"/></svg>
<div class="t" style="left:134.50px;top:691.37px;font-size:13.5px;color:#2a2a3a;transform:scaleX(1.0324);transform-origin:0 0;">Customer Info</div>
<div class="t" style="left:132.00px;top:712.34px;font-size:12px;color:#76768c;transform:scaleX(0.9600);transform-origin:0 0;">Pega</div>
<svg style="left:108.20px;top:703.10px" width="11" height="11" viewBox="0 0 11 11"><rect x="0" y="0" width="2.400" height="2.400" rx=".8" fill="#8f8fa2"/><rect x="4.2" y="0" width="2.400" height="2.400" rx=".8" fill="#8f8fa2"/><rect x="8.4" y="0" width="2.400" height="2.400" rx=".8" fill="#8f8fa2"/><rect x="0" y="4.2" width="2.400" height="2.400" rx=".8" fill="#8f8fa2"/><rect x="4.2" y="4.2" width="2.400" height="2.400" rx=".8" fill="#8f8fa2"/><rect x="8.4" y="4.2" width="2.400" height="2.400" rx=".8" fill="#8f8fa2"/><rect x="0" y="8.4" width="2.400" height="2.400" rx=".8" fill="#8f8fa2"/><rect x="4.2" y="8.4" width="2.400" height="2.400" rx=".8" fill="#8f8fa2"/><rect x="8.4" y="8.4" width="2.400" height="2.400" rx=".8" fill="#8f8fa2"/></svg>
<div class="t" style="left:134.50px;top:741.17px;font-size:13.5px;color:#2a2a3a;transform:scaleX(1.0076);transform-origin:0 0;">Loan Account</div>
<div class="t" style="left:132.00px;top:762.14px;font-size:12px;color:#76768c;transform:scaleX(0.9600);transform-origin:0 0;">Pega</div>
<svg style="left:108.20px;top:752.90px" width="11" height="11" viewBox="0 0 11 11"><rect x="0" y="0" width="2.400" height="2.400" rx=".8" fill="#8f8fa2"/><rect x="4.2" y="0" width="2.400" height="2.400" rx=".8" fill="#8f8fa2"/><rect x="8.4" y="0" width="2.400" height="2.400" rx=".8" fill="#8f8fa2"/><rect x="0" y="4.2" width="2.400" height="2.400" rx=".8" fill="#8f8fa2"/><rect x="4.2" y="4.2" width="2.400" height="2.400" rx=".8" fill="#8f8fa2"/><rect x="8.4" y="4.2" width="2.400" height="2.400" rx=".8" fill="#8f8fa2"/><rect x="0" y="8.4" width="2.400" height="2.400" rx=".8" fill="#8f8fa2"/><rect x="4.2" y="8.4" width="2.400" height="2.400" rx=".8" fill="#8f8fa2"/><rect x="8.4" y="8.4" width="2.400" height="2.400" rx=".8" fill="#8f8fa2"/></svg>
<svg style="left:117.05px;top:795.95px" width="11.5" height="11.5" viewBox="0 0 11.5 11.5"><path d="M5.75 0V11.5 M0 5.75H11.5" stroke="#44445a" stroke-width="1.1" fill="none"/></svg>
<div class="t" style="left:133.60px;top:796.14px;font-size:12px;color:#56566a;transform:scaleX(1.0149);transform-origin:0 0;">DATA</div>
<div class="abs" style="left:343.75px;top:605.30px;width:240.70px;height:122.70px;background:#e8eaf2;"></div>
<div class="t" style="left:354.00px;top:614.50px;font-size:13px;color:#1a1a2a;font-weight:bold;transform:scaleX(1.0220);transform-origin:0 0;">Data</div>
<div class="t" style="left:382.50px;top:641.57px;font-size:13.5px;color:#2a2a3a;transform:scaleX(1.0024);transform-origin:0 0;">Account Summ...</div>
<div class="t" style="left:380.00px;top:662.54px;font-size:12px;color:#76768c;transform:scaleX(0.9600);transform-origin:0 0;">Pega</div>
<svg style="left:356.20px;top:653.30px" width="11" height="11" viewBox="0 0 11 11"><rect x="0" y="0" width="2.400" height="2.400" rx=".8" fill="#8f8fa2"/><rect x="4.2" y="0" width="2.400" height="2.400" rx=".8" fill="#8f8fa2"/><rect x="8.4" y="0" width="2.400" height="2.400" rx=".8" fill="#8f8fa2"/><rect x="0" y="4.2" width="2.400" height="2.400" rx=".8" fill="#8f8fa2"/><rect x="4.2" y="4.2" width="2.400" height="2.400" rx=".8" fill="#8f8fa2"/><rect x="8.4" y="4.2" width="2.400" height="2.400" rx=".8" fill="#8f8fa2"/><rect x="0" y="8.4" width="2.400" height="2.400" rx=".8" fill="#8f8fa2"/><rect x="4.2" y="8.4" width="2.400" height="2.400" rx=".8" fill="#8f8fa2"/><rect x="8.4" y="8.4" width="2.400" height="2.400" rx=".8" fill="#8f8fa2"/></svg>
<svg style="left:365.05px;top:696.35px" width="11.5" height="11.5" viewBox="0 0 11.5 11.5"><path d="M5.75 0V11.5 M0 5.75H11.5" stroke="#44445a" stroke-width="1.1" fill="none"/></svg>
<div class="t" style="left:381.60px;top:696.54px;font-size:12px;color:#56566a;transform:scaleX(1.0149);transform-origin:0 0;">DATA</div>
<div class="abs" style="left:592.75px;top:605.30px;width:240.70px;height:122.70px;background:#e8eaf2;"></div>
<div class="t" style="left:603.00px;top:614.50px;font-size:13px;color:#1a1a2a;font-weight:bold;transform:scaleX(1.0220);transform-origin:0 0;">Data</div>
<div class="t" style="left:631.50px;top:641.57px;font-size:13.5px;color:#2a2a3a;transform:scaleX(1.0024);transform-origin:0 0;">Account Summ...</div>
<div class="t" style="left:629.00px;top:662.54px;font-size:12px;color:#76768c;transform:scaleX(0.9600);transform-origin:0 0;">Pega</div>
<svg style="left:605.20px;top:653.30px" width="11" height="11" viewBox="0 0 11 11"><rect x="0" y="0" width="2.400" height="2.400" rx=".8" fill="#8f8fa2"/><rect x="4.2" y="0" width="2.400" height="2.400" rx=".8" fill="#8f8fa2"/><rect x="8.4" y="0" width="2.400" height="2.400" rx=".8" fill="#8f8fa2"/><rect x="0" y="4.2" width="2.400" height="2.400" rx=".8" fill="#8f8fa2"/><rect x="4.2" y="4.2" width="2.400" height="2.400" rx=".8" fill="#8f8fa2"/><rect x="8.4" y="4.2" width="2.400" height="2.400" rx=".8" fill="#8f8fa2"/><rect x="0" y="8.4" width="2.400" height="2.400" rx=".8" fill="#8f8fa2"/><rect x="4.2" y="8.4" width="2.400" height="2.400" rx=".8" fill="#8f8fa2"/><rect x="8.4" y="8.4" width="2.400" height="2.400" rx=".8" fill="#8f8fa2"/></svg>
<svg style="left:614.05px;top:696.35px" width="11.5" height="11.5" viewBox="0 0 11.5 11.5"><path d="M5.75 0V11.5 M0 5.75H11.5" stroke="#44445a" stroke-width="1.1" fill="none"/></svg>
<div class="t" style="left:630.60px;top:696.54px;font-size:12px;color:#56566a;transform:scaleX(1.0149);transform-origin:0 0;">DATA</div>
<div class="abs" style="left:840.75px;top:605.30px;width:240.70px;height:122.70px;background:#e8eaf2;"></div>
<div class="t" style="left:851.00px;top:614.50px;font-size:13px;color:#1a1a2a;font-weight:bold;transform:scaleX(1.0220);transform-origin:0 0;">Data</div>
<div class="t" style="left:879.50px;top:641.57px;font-size:13.5px;color:#2a2a3a;transform:scaleX(1.0324);transform-origin:0 0;">Customer Info</div>
<div class="t" style="left:877.00px;top:662.54px;font-size:12px;color:#76768c;transform:scaleX(0.9600);transform-origin:0 0;">Pega</div>
<svg style="left:853.20px;top:653.30px" width="11" height="11" viewBox="0 0 11 11"><rect x="0" y="0" width="2.400" height="2.400" rx=".8" fill="#8f8fa2"/><rect x="4.2" y="0" width="2.400" height="2.400" rx=".8" fill="#8f8fa2"/><rect x="8.4" y="0" width="2.400" height="2.400" rx=".8" fill="#8f8fa2"/><rect x="0" y="4.2" width="2.400" height="2.400" rx=".8" fill="#8f8fa2"/><rect x="4.2" y="4.2" width="2.400" height="2.400" rx=".8" fill="#8f8fa2"/><rect x="8.4" y="4.2" width="2.400" height="2.400" rx=".8" fill="#8f8fa2"/><rect x="0" y="8.4" width="2.400" height="2.400" rx=".8" fill="#8f8fa2"/><rect x="4.2" y="8.4" width="2.400" height="2.400" rx=".8" fill="#8f8fa2"/><rect x="8.4" y="8.4" width="2.400" height="2.400" rx=".8" fill="#8f8fa2"/></svg>
<svg style="left:862.05px;top:696.35px" width="11.5" height="11.5" viewBox="0 0 11.5 11.5"><path d="M5.75 0V11.5 M0 5.75H11.5" stroke="#44445a" stroke-width="1.1" fill="none"/></svg>
<div class="t" style="left:878.60px;top:696.54px;font-size:12px;color:#56566a;transform:scaleX(1.0149);transform-origin:0 0;">DATA</div>

<svg style="left:95.00px;top:841.40px" width="160" height="37.3" viewBox="0 0 160 37.3"><path d="M0 0H149.500L158.800 18.65L149.500 37.3H0Z" fill="#e8eaf1"/></svg>
<svg style="left:108.90px;top:854.60px" width="11.8" height="11.8" viewBox="0 0 11.8 11.8"><path d="M5.9 0V11.8 M0 5.9H11.8" stroke="#44445a" stroke-width="1.1" fill="none"/></svg>
<div class="t" style="left:125.50px;top:854.84px;font-size:12px;color:#56566a;transform:scaleX(0.9420);transform-origin:0 0;">ALTERNATE STAGE</div>
<svg style="left:1490.00px;top:966.00px" width="46" height="46" viewBox="0 0 46 46"><path d="M46 3.500V46H3.500Z" fill="#3d3d56"/></svg>
<svg style="left:1513.20px;top:987.80px" width="24" height="24" viewBox="0 0 24 24"><path d="M10.3 1h3.4l.5 2.6 1.9.8 2.2-1.5 2.4 2.4-1.5 2.2.8 1.9 2.6.5v3.4l-2.6.5-.8 1.9 1.5 2.2-2.4 2.4-2.2-1.5-1.9.8-.5 2.6h-3.4l-.5-2.6-1.9-.8-2.2 1.5-2.4-2.4 1.5-2.2-.8-1.9L1 13.700v-3.400l2.600-.5.8-1.900-1.500-2.200 2.400-2.400 2.200 1.500 1.900-.8z" stroke="#e6e6ee" stroke-width="1.500" fill="none" stroke-linejoin="round" transform="translate(1.2 1.2) scale(.9)"/><circle cx="12" cy="12" r="3.400" stroke="#e6e6ee" stroke-width="1.400" fill="none"/></svg>

</body>
</html>
